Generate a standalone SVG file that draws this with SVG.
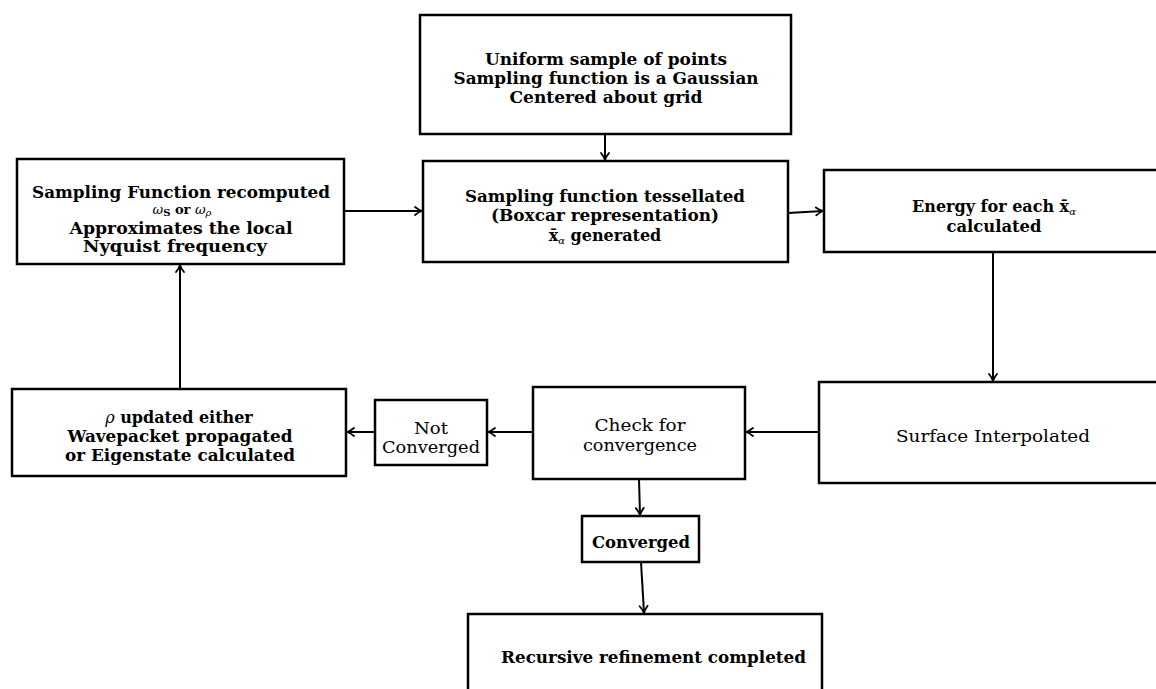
<svg xmlns="http://www.w3.org/2000/svg" width="1156" height="689" viewBox="0 0 1156 689">
<style>
.box{fill:#fff;stroke:#000;stroke-width:2.5}
.b{font-family:"DejaVu Serif","Liberation Serif",serif;font-weight:bold;font-size:16px;text-anchor:middle;fill:#000}
.r{font-family:"DejaVu Serif","Liberation Serif",serif;font-weight:normal;font-size:17px;text-anchor:middle;fill:#000}
.i{font-style:italic;font-weight:normal}
.sub{font-size:10px}
.edge{stroke:#000;stroke-width:2;fill:none;marker-end:url(#arr)}
</style>
<defs>
<marker id="arr" markerUnits="userSpaceOnUse" markerWidth="12" markerHeight="12" refX="9" refY="6" orient="auto" overflow="visible">
<path d="M2,2 Q6,5.2 9,6 Q6,6.8 2,10" fill="none" stroke="#000" stroke-width="1.8" stroke-linecap="round"/>
</marker>
</defs>
<rect width="1156" height="689" fill="#fff"/>
<g id="connectors">
<line class="edge" x1="605" y1="134" x2="605" y2="160"/>
<line class="edge" x1="344" y1="211" x2="422" y2="211"/>
<line class="edge" x1="788" y1="213" x2="823" y2="211"/>
<line class="edge" x1="993" y1="252" x2="993" y2="381"/>
<line class="edge" x1="819" y1="432" x2="746" y2="432"/>
<line class="edge" x1="533" y1="432" x2="488" y2="432"/>
<line class="edge" x1="375" y1="432" x2="347" y2="432"/>
<line class="edge" x1="180" y1="389" x2="180" y2="265"/>
<line class="edge" x1="639" y1="479" x2="640" y2="515"/>
<line class="edge" x1="641" y1="562" x2="644" y2="613"/>
</g>
<g id="uniform">
<rect class="box" x="420" y="15" width="371" height="119"/>
<text class="b" x="606" y="65" textLength="242" lengthAdjust="spacingAndGlyphs">Uniform sample of points</text>
<text class="b" x="606" y="84" textLength="305" lengthAdjust="spacingAndGlyphs">Sampling function is a Gaussian</text>
<text class="b" x="606" y="103" textLength="193" lengthAdjust="spacingAndGlyphs">Centered about grid</text>
</g>
<g id="tessellated">
<rect class="box" x="423" y="161" width="365" height="101"/>
<text class="b" x="605" y="202" textLength="280" lengthAdjust="spacingAndGlyphs">Sampling function tessellated</text>
<text class="b" x="605" y="221" textLength="228" lengthAdjust="spacingAndGlyphs">(Boxcar representation)</text>
<text class="b" x="605" y="241">x̄<tspan class="i sub" dy="3">α</tspan><tspan dy="-3"> generated</tspan></text>
</g>
<g id="recomputed">
<rect class="box" x="17" y="159" width="327" height="105"/>
<text class="b" x="181" y="198" textLength="298" lengthAdjust="spacingAndGlyphs">Sampling Function recomputed</text>
<text class="b" x="182" y="214" style="font-size:13px"><tspan class="i">ω</tspan><tspan class="sub" dy="2">S</tspan><tspan dy="-2"> or </tspan><tspan class="i">ω</tspan><tspan class="i sub" dy="2">ρ</tspan></text>
<text class="b" x="181" y="234" textLength="223" lengthAdjust="spacingAndGlyphs">Approximates the local</text>
<text class="b" x="175" y="252" textLength="184" lengthAdjust="spacingAndGlyphs">Nyquist frequency</text>
</g>
<g id="energy">
<rect class="box" x="824" y="170" width="340" height="82"/>
<text class="b" x="994" y="212">Energy for each x̄<tspan class="i sub" dy="3">α</tspan></text>
<text class="b" x="994" y="232" textLength="95" lengthAdjust="spacingAndGlyphs">calculated</text>
</g>
<g id="surface">
<rect class="box" x="819" y="382" width="348" height="101"/>
<text class="r" x="993" y="442" textLength="194" lengthAdjust="spacingAndGlyphs">Surface Interpolated</text>
</g>
<g id="check">
<rect class="box" x="533" y="387" width="212" height="92"/>
<text class="r" x="640" y="431" textLength="91" lengthAdjust="spacingAndGlyphs">Check for</text>
<text class="r" x="640" y="451" textLength="114" lengthAdjust="spacingAndGlyphs">convergence</text>
</g>
<g id="notconverged">
<rect class="box" x="375" y="400" width="112" height="65"/>
<text class="r" x="431" y="434" textLength="34" lengthAdjust="spacingAndGlyphs">Not</text>
<text class="r" x="431" y="453" textLength="98" lengthAdjust="spacingAndGlyphs">Converged</text>
</g>
<g id="rho">
<rect class="box" x="12" y="389" width="334" height="87"/>
<text class="b" x="179" y="423"><tspan class="i">ρ</tspan> updated either</text>
<text class="b" x="180" y="442" textLength="225" lengthAdjust="spacingAndGlyphs">Wavepacket propagated</text>
<text class="b" x="180" y="461" textLength="230" lengthAdjust="spacingAndGlyphs">or Eigenstate calculated</text>
</g>
<g id="converged">
<rect class="box" x="582" y="516" width="117" height="46"/>
<text class="b" x="641" y="548" textLength="98" lengthAdjust="spacingAndGlyphs">Converged</text>
</g>
<g id="recursive">
<rect class="box" x="468" y="614" width="354" height="90"/>
<text class="b" x="501" y="663" style="text-anchor:start" textLength="305" lengthAdjust="spacingAndGlyphs">Recursive refinement completed</text>
</g>
</svg>
